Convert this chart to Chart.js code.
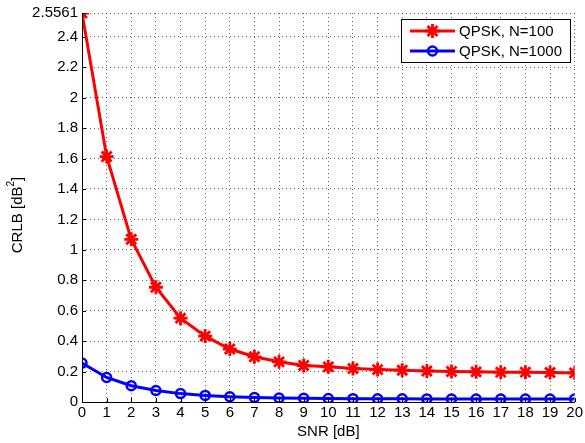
<!DOCTYPE html>
<html><head><meta charset="utf-8">
<script src="https://cdn.jsdelivr.net/npm/chart.js@4/dist/chart.umd.min.js"></script>
<style>html,body{margin:0;padding:0;background:#fff;}#wrap{width:585px;height:443px;}</style>
</head><body><div id="wrap"><canvas id="c" width="585" height="443"></canvas></div>
<script>
const snr = [0,1,2,3,4,5,6,7,8,9,10,11,12,13,14,15,16,17,18,19,20];
const crlbN100 = [2.5561,1.613,1.069,0.754,0.551,0.433,0.348,0.297,0.264,0.240,0.231,0.220,0.213,0.209,0.204,0.200,0.198,0.196,0.196,0.194,0.191];
const crlbN1000 = [0.2556,0.1613,0.1069,0.0754,0.0551,0.0433,0.0348,0.0297,0.0264,0.0240,0.0231,0.0220,0.0213,0.0209,0.0204,0.0200,0.0198,0.0196,0.0196,0.0194,0.0191];
const yTicks = [0,0.2,0.4,0.6,0.8,1,1.2,1.4,1.6,1.8,2,2.2,2.4,2.5561];
const xTicks = snr;
const seriesNames = ['QPSK, N=100','QPSK, N=1000'];
const xTitle = 'SNR [dB]';
const yTitleParts = ['CRLB [dB','2',']'];

const FONT = 'Liberation Sans, Arial, Helvetica, sans-serif';

const innerTicks = {
  id:'innerTicks',
  afterDatasetsDraw(chart){
    const ctx=chart.ctx, a=chart.chartArea, xs=chart.scales.x, ys=chart.scales.y;
    ctx.save(); ctx.setLineDash([]);
    ctx.strokeStyle='#000'; ctx.lineWidth=1;
    ctx.beginPath();
    ctx.moveTo(Math.round(a.left)+0.5,a.top); ctx.lineTo(Math.round(a.left)+0.5,Math.round(a.bottom)+1);
    ctx.moveTo(a.left,Math.round(a.bottom)+0.5); ctx.lineTo(a.right,Math.round(a.bottom)+0.5);
    ctx.stroke();
    ctx.beginPath();
    xTicks.forEach(v=>{const px=Math.round(xs.getPixelForValue(v))+0.5; ctx.moveTo(px,a.bottom); ctx.lineTo(px,a.bottom-4);});
    yTicks.forEach(v=>{const py=Math.round(ys.getPixelForValue(v))+0.5; ctx.moveTo(a.left,py); ctx.lineTo(a.left+4,py);});
    ctx.stroke();
    ctx.fillStyle='#000'; ctx.textBaseline='middle'; ctx.textAlign='left';
    ctx.translate(17.5,215); ctx.rotate(-Math.PI/2);
    ctx.font='15px '+FONT; const w0=ctx.measureText(yTitleParts[0]).width, w2=ctx.measureText(yTitleParts[2]).width;
    ctx.font='10px '+FONT; const w1=ctx.measureText(yTitleParts[1]).width;
    let x=-(w0+w1+w2)/2;
    ctx.font='15px '+FONT; ctx.fillText(yTitleParts[0],x,0); x+=w0;
    ctx.font='10px '+FONT; ctx.fillText(yTitleParts[1],x,-6); x+=w1;
    ctx.font='15px '+FONT; ctx.fillText(yTitleParts[2],x,0);
    ctx.restore();
  }
};

const boxLegend = {
  id:'boxLegend',
  afterDraw(chart){
    const ctx=chart.ctx;
    const x0=401,y0=19,w=169,h=43;
    ctx.save(); ctx.setLineDash([]);
    ctx.fillStyle='#fff'; ctx.fillRect(x0,y0,w,h);
    ctx.strokeStyle='#000'; ctx.lineWidth=1; ctx.strokeRect(x0+0.5,y0+0.5,w,h);
    const rows=[31,51];
    chart.data.datasets.forEach((ds,i)=>{
      const y=rows[i];
      ctx.strokeStyle=ds.borderColor; ctx.lineWidth=ds.borderWidth;
      ctx.beginPath(); ctx.moveTo(410,y); ctx.lineTo(455,y); ctx.stroke();
      ctx.fillStyle='rgba(0,0,0,0)'; ctx.strokeStyle=ds.pointBorderColor; ctx.lineWidth=ds.pointBorderWidth;
      Chart.helpers.drawPoint(ctx,{pointStyle:ds.pointStyle,radius:ds.pointRadius,borderWidth:ds.pointBorderWidth,rotation:0},432.5,y);
      ctx.fillStyle='#000'; ctx.font='15px '+FONT; ctx.textBaseline='middle'; ctx.textAlign='left';
      ctx.fillText(ds.label,459,y+0.5);
    });
    ctx.restore();
  }
};

new Chart(document.getElementById('c'),{
  type:'line',
  data:{datasets:[
    {label:seriesNames[0],data:snr.map((x,i)=>({x,y:crlbN100[i]})),borderColor:'#ff0000',backgroundColor:'rgba(0,0,0,0)',borderWidth:3,pointStyle:'star',pointRadius:7,pointBorderWidth:2.8,pointBorderColor:'#ff0000',pointBackgroundColor:'rgba(0,0,0,0)',tension:0},
    {label:seriesNames[1],data:snr.map((x,i)=>({x,y:crlbN1000[i]})),borderColor:'#0000ff',backgroundColor:'rgba(0,0,0,0)',borderWidth:3,pointStyle:'circle',pointRadius:4.5,pointBorderWidth:2.5,pointBorderColor:'#0000ff',pointBackgroundColor:'rgba(0,0,0,0)',tension:0}
  ]},
  options:{
    responsive:false,animation:false,
    layout:{padding:{left:0,right:8,top:13,bottom:0}},
    plugins:{legend:{display:false},tooltip:{enabled:false}},
    scales:{
      x:{type:'linear',min:0,max:20,
        afterBuildTicks(s){s.ticks=xTicks.map(v=>({value:v}));},
        afterFit(s){s.height=41;},
        ticks:{color:'#000',font:{family:FONT,size:15},padding:2,maxRotation:0,autoSkip:false},
        grid:{color:'rgba(0,0,0,0.6)',lineWidth:1,drawTicks:false},
        border:{display:false,dash:[1,3]},
        title:{display:true,text:xTitle,color:'#000',font:{family:FONT,size:15},padding:{top:0,bottom:2}}
      },
      y:{type:'linear',min:0,max:2.5561,
        afterBuildTicks(s){s.ticks=yTicks.map(v=>({value:v}));},
        afterFit(s){s.width=82;},
        ticks:{color:'#000',font:{family:FONT,size:15},padding:4,callback:v=>String(v)},
        grid:{color:'rgba(0,0,0,0.6)',lineWidth:1,drawTicks:false},
        border:{display:false,dash:[1,3]},
        title:{display:false}
      }
    }
  },
  plugins:[innerTicks, boxLegend]
});
</script></body></html>
